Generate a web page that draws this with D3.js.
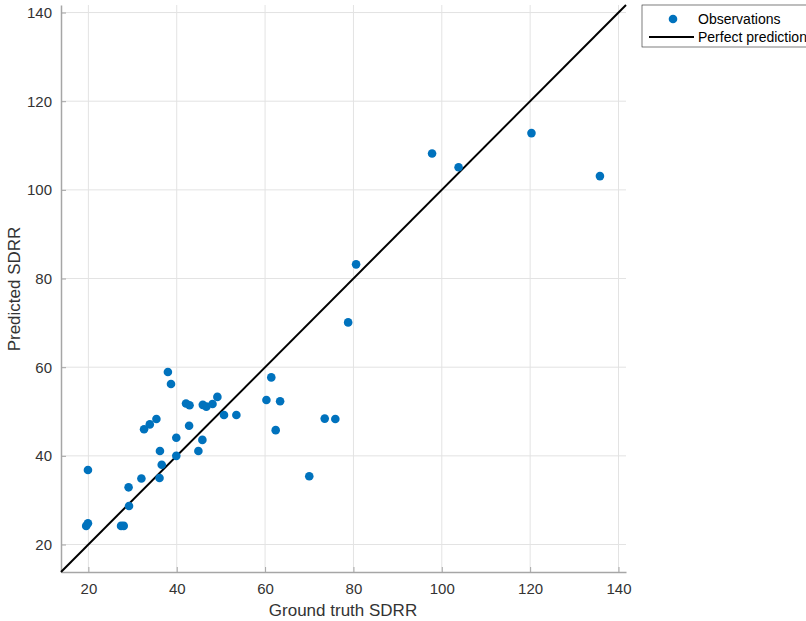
<!DOCTYPE html>
<html>
<head>
<meta charset="utf-8">
<script src="https://cdn.jsdelivr.net/npm/d3@7"></script>
<style>
  body { margin: 0; background: #fff; }
  svg { font-family: "Liberation Sans", Arial, sans-serif; }
</style>
</head>
<body>
<div id="chart"></div>
<script>
// ground truth / predicted SDRR
var truth = [19.9, 19.5, 19.9, 27.4, 28.0, 29.1, 29.2, 32.0, 32.6, 33.9,
             35.4, 36.1, 36.2, 36.6, 38.0, 38.7, 39.9, 39.9, 42.1, 42.9,
             42.8, 44.9, 45.8, 45.9, 46.7, 48.1, 49.2, 50.7, 53.5, 60.3,
             61.4, 62.4, 63.4, 70.0, 73.5, 75.9, 78.8, 80.6, 97.8, 103.8,
             120.3, 135.8];
var predicted = [36.8, 24.2, 24.8, 24.2, 24.2, 32.9, 28.7, 34.9, 46.0, 47.1,
                 48.3, 35.0, 41.1, 38.0, 58.9, 56.2, 44.1, 40.0, 51.8, 51.4,
                 46.8, 41.1, 43.6, 51.5, 51.1, 51.7, 53.3, 49.2, 49.2, 52.6,
                 57.7, 45.8, 52.3, 35.4, 48.4, 48.3, 70.1, 83.2, 108.2, 105.1,
                 112.8, 103.1];
var ticks = [20, 40, 60, 80, 100, 120, 140];
var limits = [13.8, 141.7];
var legendLabels = ["Observations", "Perfect prediction"];

var W = 806, H = 621;
var m = {top: 5, right: 180, bottom: 49, left: 61};
var w = 626 - m.left, h = 572 - m.top;

var svg = d3.select("#chart").append("svg")
    .attr("width", W)
    .attr("height", H);

var g = svg.append("g")
    .attr("transform", "translate(" + m.left + "," + m.top + ")");

var x = d3.scaleLinear().domain(limits).range([0, w]);
var y = d3.scaleLinear().domain(limits).range([h, 0]);

// grid
g.append("g").selectAll("line")
    .data(ticks).enter().append("line")
    .attr("x1", function(d) { return x(d); })
    .attr("x2", function(d) { return x(d); })
    .attr("y1", 0).attr("y2", h)
    .attr("stroke", "#e3e3e3").attr("stroke-width", 1);
g.append("g").selectAll("line")
    .data(ticks).enter().append("line")
    .attr("y1", function(d) { return y(d); })
    .attr("y2", function(d) { return y(d); })
    .attr("x1", 0).attr("x2", w)
    .attr("stroke", "#e3e3e3").attr("stroke-width", 1);

// axes, ticks pointing inward
var xAxis = d3.axisBottom(x).tickValues(ticks).tickSizeInner(-5).tickSizeOuter(0).tickPadding(11);
var yAxis = d3.axisLeft(y).tickValues(ticks).tickSizeInner(-5).tickSizeOuter(0).tickPadding(9);

g.append("g")
    .attr("transform", "translate(0," + h + ")")
    .call(xAxis)
    .call(styleAxis);
g.append("g")
    .call(yAxis)
    .call(styleAxis);

function styleAxis(sel) {
    sel.select(".domain").attr("stroke", "#a6a6a6").attr("stroke-width", 1.5);
    sel.selectAll(".tick line").attr("stroke", "#a6a6a6").attr("stroke-width", 1);
    sel.selectAll(".tick text").attr("fill", "#333").style("font-size", "15px")
        .style("font-family", "Liberation Sans, Arial, sans-serif");
}

// perfect prediction line
g.append("line")
    .attr("x1", x(limits[0])).attr("y1", y(limits[0]))
    .attr("x2", x(limits[1])).attr("y2", y(limits[1]))
    .attr("stroke", "#000").attr("stroke-width", 2);

// observations
g.selectAll(".dot")
    .data(truth).enter().append("circle")
    .attr("class", "dot")
    .attr("cx", function(d) { return x(d); })
    .attr("cy", function(d, i) { return y(predicted[i]); })
    .attr("r", 4.3)
    .attr("fill", "#0072BD");

// axis labels
svg.append("text")
    .attr("x", 343).attr("y", 616)
    .attr("text-anchor", "middle")
    .attr("fill", "#333")
    .style("font-size", "17px")
    .text("Ground truth SDRR");

svg.append("text")
    .attr("transform", "translate(20,289) rotate(-90)")
    .attr("text-anchor", "middle")
    .attr("fill", "#333")
    .style("font-size", "17px")
    .text("Predicted SDRR");

// legend
var leg = svg.append("g");
leg.append("rect")
    .attr("x", 642).attr("y", 5)
    .attr("width", 166).attr("height", 42)
    .attr("fill", "#fff").attr("stroke", "#262626").attr("stroke-width", 0.6);
leg.append("circle")
    .attr("cx", 673).attr("cy", 19).attr("r", 4.3).attr("fill", "#0072BD");
leg.append("line")
    .attr("x1", 649).attr("x2", 694).attr("y1", 37).attr("y2", 37)
    .attr("stroke", "#000").attr("stroke-width", 2);
leg.selectAll("text")
    .data(legendLabels).enter().append("text")
    .attr("x", 698)
    .attr("y", function(d, i) { return 23.5 + i * 18; })
    .attr("fill", "#000")
    .style("font-size", "14px")
    .text(function(d) { return d; });
</script>
</body>
</html>
